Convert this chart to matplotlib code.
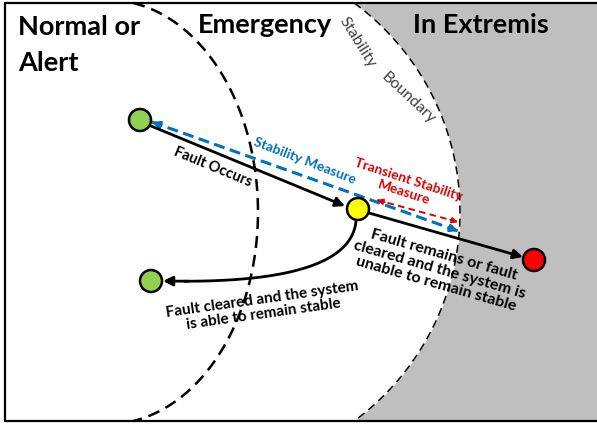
import numpy as np
import matplotlib.pyplot as plt

plt.rcParams['font.family'] = ['Lato', 'DejaVu Sans']

# region boundaries (pixel space of the sketch)
inner_center = (108, 212)
inner_radii = (150, 212)
outer_center = (199, 212)
outer_radii = (261, 260)

# operating points
green_start = (140, 120)
yellow_fault = (358, 209)
red_unstable = (534, 260)
green_cleared = (151, 281)

# arrows
fault_arrow = [(151, 126), (345, 206)]
unstable_arrow = [(369, 213), (523, 257)]
stability_measure = [(152, 122), (458, 231)]
transient_measure = [(377, 200), (458, 222)]
cleared_curve = [(356, 221), (350, 285), (163, 281)]

fig = plt.figure(figsize=(5.97, 4.26), dpi=100)
ax = fig.add_axes([0, 0, 1, 1])
ax.set_xlim(0, 597)
ax.set_ylim(426, 0)
ax.axis('off')

y = np.linspace(3, 421, 400)

# grey "in extremis" area right of the stability boundary
ox = outer_center[0] + outer_radii[0] * np.sqrt(np.clip(1 - ((y - outer_center[1]) / outer_radii[1]) ** 2, 0, 1))
ax.fill_betweenx(y, ox, 600, color='#bfbfbf', lw=0, zorder=0)
ax.plot(ox, y, color='k', lw=1.1, dashes=(5.3, 3.3), zorder=1)

ix = inner_center[0] + inner_radii[0] * np.sqrt(np.clip(1 - ((y - inner_center[1]) / inner_radii[1]) ** 2, 0, 1))
ax.plot(ix, y, color='k', lw=1.8, dashes=(4.8, 2.8), zorder=1)

# frame
ax.plot([600, 5, 5, 600], [3, 3, 421, 421], color='k', lw=1.6, zorder=5, clip_on=False)

# region labels
big = dict(fontsize=19.5, fontweight='bold', color='k', va='baseline')
ax.text(18, 35, 'Normal or', **big)
ax.text(18, 71, 'Alert', **big)
ax.text(198, 33, 'Emergency', **big)
ax.text(413, 33, 'In Extremis', **big)
ax.text(357, 42, 'Stability', fontsize=11.5, color='#404040', rotation=-58,
        ha='center', va='center', rotation_mode='anchor')
ax.text(408, 98, 'Boundary', fontsize=11.5, color='#404040', rotation=-43,
        ha='center', va='center', rotation_mode='anchor')


def dashed_double(p, color, lw, dashes, hw):
    (x0, y0), (x1, y1) = p
    ax.plot([x0, x1], [y0, y1], color=color, lw=lw, dashes=dashes, zorder=2)
    for a, b in [((x0, y0), (x1, y1)), ((x1, y1), (x0, y0))]:
        d = np.array(a) - np.array(b)
        d = d / np.hypot(*d)
        ax.annotate('', xy=a, xytext=(a[0] - 8 * d[0], a[1] - 8 * d[1]),
                    arrowprops=dict(arrowstyle='-|>', color=color, lw=lw,
                                    mutation_scale=hw, shrinkA=0, shrinkB=0), zorder=2)


dashed_double(stability_measure, '#0070c0', 2.2, (3.6, 1.8), 10)
dashed_double(transient_measure, '#e00000', 1.4, (3.4, 2.2), 8)

solid = dict(arrowstyle='-|>', color='k', lw=2.0, mutation_scale=14, shrinkA=0, shrinkB=0)
ax.annotate('', xy=fault_arrow[1], xytext=fault_arrow[0], arrowprops=solid, zorder=3)
ax.annotate('', xy=unstable_arrow[1], xytext=unstable_arrow[0], arrowprops=solid, zorder=3)

# curved return path (quadratic bezier)
t = np.linspace(0, 1, 100)[:, None]
p0, p1, p2 = [np.array(c, float) for c in cleared_curve]
bz = (1 - t) ** 2 * p0 + 2 * (1 - t) * t * p1 + t ** 2 * p2
ax.plot(bz[:-6, 0], bz[:-6, 1], color='k', lw=2.0, zorder=3)
ax.annotate('', xy=bz[-1], xytext=bz[-8], arrowprops=solid, zorder=3)

for (cx, cy), fc in [(green_start, '#92d050'), (yellow_fault, '#ffff00'),
                     (red_unstable, '#ff0000'), (green_cleared, '#92d050')]:
    ax.add_patch(plt.Circle((cx, cy), 11, facecolor=fc, edgecolor='k', lw=1.8, zorder=4))

small = dict(fontweight='bold', ha='center', va='center', rotation_mode='anchor',
             linespacing=1.1)
ax.text(213, 167, 'Fault Occurs', rotation=-22.5, color='k', fontsize=10.5, **small)
ax.text(305, 161, 'Stability Measure', rotation=-21, color='#0070c0', fontsize=10, **small)
ax.text(406, 186, 'Transient Stability\nMeasure', rotation=-18, color='#e00000', fontsize=10, **small)
ax.text(440, 270, 'Fault remains or fault\ncleared and the system is\nunable to remain stable',
        rotation=-16, color='k', fontsize=11.5, **small)
ax.text(263, 307, 'Fault cleared and the system\nis able to remain stable',
        rotation=8, color='k', fontsize=11, **small)

fig.savefig('out.png', dpi=100)
